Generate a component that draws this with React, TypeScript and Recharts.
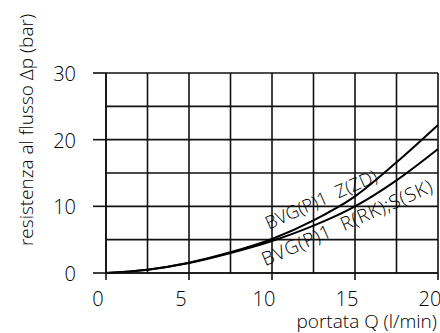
import { CartesianGrid, Line, LineChart, ReferenceDot, XAxis, YAxis } from "recharts";

// portata Q (l/min) vs resistenza Δp (bar)
const flow = [0, 2.5, 5, 7.5, 10, 12.5, 15, 17.5, 20];
const curveZ = [0, 0.5, 1.55, 3.1, 5.1, 7.9, 11.5, 16.6, 22.2];
const curveRS = [0, 0.5, 1.5, 3.0, 4.8, 7.1, 10.0, 13.9, 18.6];

const xGrid = [0, 2.5, 5, 7.5, 10, 12.5, 15, 17.5, 20];
const xLabels = [0, 5, 10, 15, 20];
const yGrid = [0, 5, 10, 15, 20, 25, 30];
const yLabels = [0, 10, 20, 30];

const curveNames = ["BVG(P)1\u00a0\u00a0Z(ZD)", "BVG(P)1\u00a0\u00a0R(RK);S(SK)"];
const nameQ = [9.8, 9.6];
const nameDp = [6.5, 1.0];
const nameSize = [18, 19];
const nameSpacing = [0.2, 0.8];

const data = flow.map((q, i) => ({ q, z: curveZ[i], rs: curveRS[i] }));

const font = "'Open Sans', 'Liberation Sans', Arial, sans-serif";
const weight = 300;
const ink = "#111";

function XTick({ x, y, payload }: any) {
  if (!xLabels.includes(payload.value)) return <g />;
  return (
    <g>
      <line x1={x} y1={y} x2={x} y2={y + 7} stroke={ink} strokeWidth={1.6} />
      <text x={x - 8} y={y + 33} textAnchor="middle" fontSize={20} fontFamily={font} fontWeight={weight} fill="#000">
        {payload.value}
      </text>
    </g>
  );
}

function YTick({ x, y, payload }: any) {
  if (!yLabels.includes(payload.value)) return <g />;
  return (
    <g>
      <line x1={x - 13} y1={y} x2={x} y2={y} stroke={ink} strokeWidth={1.6} />
      <text x={x - 30} y={y + 8} textAnchor="end" fontSize={20} fontFamily={font} fontWeight={weight} fill="#000">
        {payload.value}
      </text>
    </g>
  );
}

function CurveName({ cx, cy, text, size, spacing }: any) {
  return (
    <text
      x={cx}
      y={cy}
      transform={`rotate(-24 ${cx} ${cy})`}
      fontSize={size}
      letterSpacing={spacing}
      fontFamily={font}
      fontWeight={weight}
      fill="#000"
    >
      {text}
    </text>
  );
}

export default function App() {
  return (
    <div style={{ position: "absolute", left: 0, top: 0, width: 440, height: 333, background: "#fff" }}>
      <LineChart
        width={440}
        height={333}
        data={data}
        margin={{ top: 73, right: 2, bottom: 30, left: 46 }}
      >
        <CartesianGrid stroke={ink} strokeWidth={1.6} />
        <XAxis
          dataKey="q"
          type="number"
          domain={[0, 20]}
          ticks={xGrid}
          interval={0}
          height={30}
          tickSize={0}
          tickMargin={0}
          tickLine={false}
          axisLine={{ stroke: ink, strokeWidth: 1.6 }}
          tick={(p: any) => <XTick {...p} />}
          label={{
            content: () => (
              <text x={437} y={327.5} textAnchor="end" fontSize={19} fontFamily={font} fontWeight={weight} fill="#000">
                portata Q (l/min)
              </text>
            ),
          }}
        />
        <YAxis
          type="number"
          domain={[0, 30]}
          ticks={yGrid}
          interval={0}
          width={60}
          tickSize={0}
          tickMargin={0}
          tickLine={false}
          axisLine={{ stroke: ink, strokeWidth: 1.6 }}
          tick={(p: any) => <YTick {...p} />}
          label={{
            content: () => (
              <text
                x={33}
                y={130}
                transform="rotate(-90 33 130)"
                textAnchor="middle"
                fontSize={19}
                fontFamily={font}
                fontWeight={weight}
                fill="#000"
              >
                resistenza al flusso Δp (bar)
              </text>
            ),
          }}
        />
        <Line type="monotone" dataKey="z" stroke="#000" strokeWidth={2} dot={false} isAnimationActive={false} />
        <Line type="monotone" dataKey="rs" stroke="#000" strokeWidth={2} dot={false} isAnimationActive={false} />
        {curveNames.map((name, i) => (
          <ReferenceDot
            key={name}
            x={nameQ[i]}
            y={nameDp[i]}
            r={0}
            shape={(p: any) => (
              <CurveName cx={p.cx} cy={p.cy} text={name} size={nameSize[i]} spacing={nameSpacing[i]} />
            )}
          />
        ))}
      </LineChart>
    </div>
  );
}
